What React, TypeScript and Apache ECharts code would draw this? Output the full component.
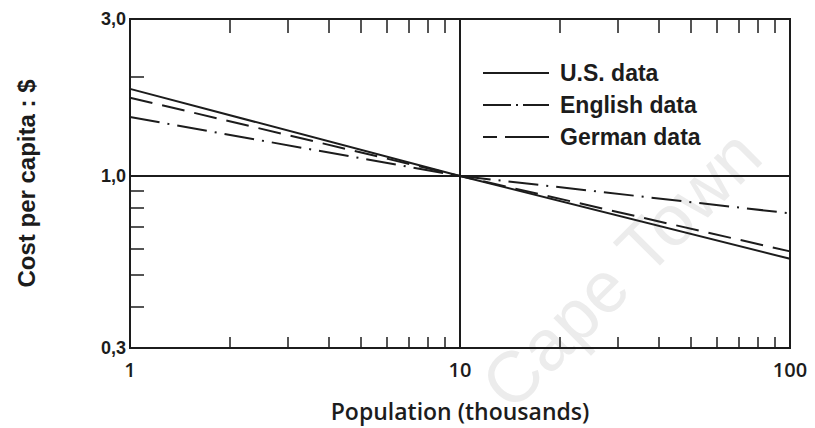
import React, { useEffect, useRef } from "react";
import * as echarts from "echarts";

const populations = [1, 10, 100];
const usCost = [1.84, 1.0, 0.56];
const englishCost = [1.51, 1.0, 0.77];
const germanCost = [1.73, 1.0, 0.59];

const xTickLabels = [1, 10, 100];
const yTickLabels = [0.3, 1, 3];
const xMinorTicks = [2, 3, 4, 5, 6, 7, 8, 9, 20, 30, 40, 50, 60, 70, 80, 90];
const yMinorTicks = [0.4, 0.5, 0.6, 0.7, 0.8, 0.9, 2];

const INK = "#1c1c1c";

export default function App() {
  const ref = useRef<HTMLDivElement>(null);

  useEffect(() => {
    document.body.style.margin = "0";
    if (!ref.current) return;
    const chart = echarts.init(ref.current, undefined, { renderer: "svg" });
    const pair = (ys: number[]) => populations.map((x, i) => [x, ys[i]]);
    const lineBase = { color: INK, width: 2 };

    chart.setOption({
      animation: false,
      backgroundColor: "#ffffff",
      graphic: [
        {
          type: "text",
          x: 621,
          y: 269,
          rotation: 0.785,
          z: -10,
          silent: true,
          style: {
            text: "Cape Town",
            fill: "#ececec",
            font: "72px 'Liberation Sans'",
            align: "center",
            verticalAlign: "middle",
          },
        },
      ],
      grid: {
        left: 130,
        top: 19,
        width: 660,
        height: 329,
        show: true,
        borderColor: INK,
        borderWidth: 2,
        backgroundColor: "transparent",
      },
      legend: {
        orient: "vertical",
        left: 477,
        top: 56,
        itemWidth: 66,
        itemHeight: 14,
        itemGap: 8,
        itemStyle: { opacity: 0 },
        textStyle: {
          fontFamily: "'Liberation Sans', Arial, sans-serif",
          fontWeight: "bold",
          fontSize: 23,
          lineHeight: 24,
          color: INK,
          padding: [0, 0, 0, 6],
        },
        data: [
          { name: "U.S. data", itemStyle: { opacity: 0 } },
          {
            name: "English data",
            itemStyle: { opacity: 0 },
            lineStyle: { type: [28, 5, 2, 5] },
          },
          {
            name: "German data",
            itemStyle: { opacity: 0 },
            lineStyle: { type: [14, 8, 44] },
          },
        ],
      },
      xAxis: [
        {
          type: "log",
          logBase: 10,
          min: 1,
          max: 100,
          position: "bottom",
          axisLine: { show: false },
          axisTick: {
            show: true,
            inside: true,
            length: 11,
            customValues: xMinorTicks,
            lineStyle: { color: INK, width: 1.5 },
          },
          axisLabel: {
            customValues: xTickLabels,
            formatter: (v: number) => String(Math.round(v)),
            fontFamily: "'Open Sans', Lato, sans-serif",
            fontWeight: 600,
            fontSize: 20,
            color: INK,
            margin: 11,
          },
          splitLine: { show: false },
          name: "Population (thousands)",
          nameLocation: "middle",
          nameGap: 51,
          nameTextStyle: {
            fontFamily: "'Open Sans', Lato, sans-serif",
            fontWeight: 600,
            fontSize: 23,
            color: INK,
          },
        },
        {
          type: "log",
          logBase: 10,
          min: 1,
          max: 100,
          position: "top",
          axisLine: { show: false },
          axisTick: {
            show: true,
            inside: true,
            length: 14,
            customValues: xMinorTicks,
            lineStyle: { color: INK, width: 1.5 },
          },
          axisLabel: { show: false },
          splitLine: { show: false },
        },
      ],
      yAxis: [
        {
          type: "log",
          logBase: 10,
          min: 0.3,
          max: 3,
          position: "left",
          axisLine: { show: false },
          axisTick: {
            show: true,
            inside: true,
            length: 14,
            customValues: yMinorTicks,
            lineStyle: { color: INK, width: 1.5 },
          },
          axisLabel: {
            customValues: yTickLabels,
            formatter: (v: number) => v.toFixed(1).replace(".", ","),
            fontFamily: "'Liberation Sans', Arial, sans-serif",
            fontWeight: "bold",
            fontSize: 18,
            color: INK,
            margin: 4,
          },
          splitLine: { show: false },
          name: "Cost per capita : $",
          nameLocation: "middle",
          nameGap: 92,
          nameRotate: 90,
          nameTextStyle: {
            fontFamily: "'Liberation Sans', Arial, sans-serif",
            fontWeight: "bold",
            fontSize: 24,
            color: INK,
          },
        },
      ],
      series: [
        {
          name: "U.S. data",
          type: "line",
          symbol: "none",
          data: pair(usCost),
          lineStyle: { ...lineBase, type: "solid" },
          itemStyle: { color: INK },
          markLine: {
            silent: true,
            symbol: "none",
            label: { show: false },
            lineStyle: { color: INK, width: 2, type: "solid" },
            data: [{ xAxis: 10 }, { yAxis: 1 }],
          },
        },
        {
          name: "English data",
          type: "line",
          symbol: "none",
          data: pair(englishCost),
          lineStyle: { ...lineBase, type: [30, 8, 2, 8] },
          itemStyle: { color: INK },
        },
        {
          name: "German data",
          type: "line",
          symbol: "none",
          data: pair(germanCost),
          lineStyle: { ...lineBase, type: [23, 10] },
          itemStyle: { color: INK },
        },
      ],
    });

    return () => chart.dispose();
  }, []);

  return <div ref={ref} style={{ width: 815, height: 428 }} />;
}
